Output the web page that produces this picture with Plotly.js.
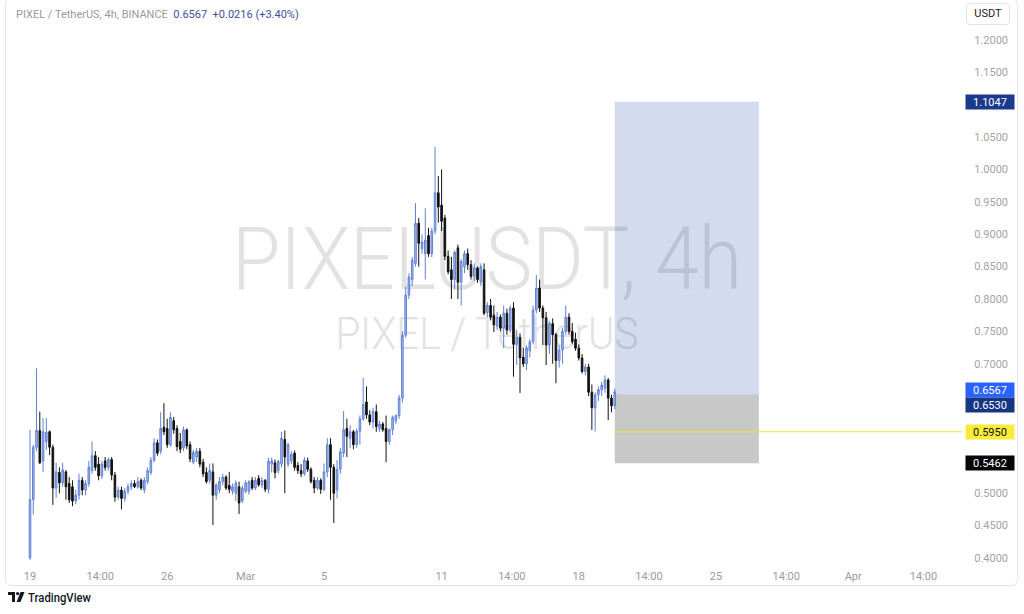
<!DOCTYPE html>
<html><head><meta charset="utf-8">
<script src="https://cdn.plot.ly/plotly-3.0.1.min.js"></script>
<style>
html,body{margin:0;padding:0;background:#fff;width:1024px;height:614px;overflow:hidden;font-family:Roboto,"Noto Sans",sans-serif;}
#frame{position:absolute;left:5px;top:-2px;width:1013px;height:588px;border:1px solid #e6e6e6;border-radius:6px;box-sizing:border-box;}
#wm{position:absolute;left:0;top:0;}
#chart{position:absolute;left:0;top:0;width:1024px;height:614px;}
#usdt{position:absolute;left:966px;top:3px;width:44px;height:22px;border:1px solid #e3e3e3;border-radius:4px;box-sizing:border-box;font-size:11px;line-height:20px;text-align:center;color:#222;}
#logo{position:absolute;left:8px;top:590px;}
</style></head>
<body>
<div id="frame"></div>
<svg id="wm" width="1024" height="614">
  <text x="487" y="289" text-anchor="middle" font-family="Roboto" font-size="88" font-weight="300" fill="#e2e2e2" textLength="510" lengthAdjust="spacingAndGlyphs">PIXELUSDT, 4h</text>
  <text x="487" y="349" text-anchor="middle" font-family="Roboto" font-size="44" font-weight="300" fill="#e2e2e2" textLength="303" lengthAdjust="spacingAndGlyphs">PIXEL / TetherUS</text>
</svg>
<div id="chart"></div>
<div id="usdt">USDT</div>
<svg id="logo" width="100" height="18">
  <path d="M0 2 H7 V12 H4 V5 H0 Z" fill="#131722"/>
  <circle cx="9.6" cy="3.6" r="1.6" fill="#131722"/>
  <path d="M12.5 2 H16.5 L12.5 12 H8.6 Z" fill="#131722"/>
  <text x="20" y="12" font-family="Roboto" font-size="12" font-weight="500" fill="#131722" textLength="63" lengthAdjust="spacingAndGlyphs">TradingView</text>
</svg>
<script>
const OPEN=[.400,.490,.571,.597,.550,.580,.595,.571,.508,.532,.516,.533,.515,.510,.488,.497,.520,.505,.515,.535,
.558,.545,.527,.550,.540,.552,.528,.494,.505,.492,.503,.510,.515,.510,.520,.505,.518,.532,.551,.578,
.565,.602,.600,.575,.612,.600,.580,.570,.598,.575,.548,.556,.565,.548,.532,.520,.533,.497,.505,.518,
.525,.512,.503,.500,.510,.488,.503,.503,.520,.508,.523,.513,.520,.506,.545,.547,.535,.545,.583,.545,
.550,.562,.543,.535,.530,.550,.537,.520,.508,.520,.506,.533,.575,.540,.505,.537,.562,.600,.585,.595,
.575,.596,.615,.641,.621,.610,.626,.600,.607,.600,.580,.598,.612,.620,.647,.744,.806,.830,.855,.917,
.878,.870,.898,.870,.905,.964,.945,.925,.866,.845,.830,.879,.826,.850,.870,.853,.835,.848,.826,.845,
.779,.790,.775,.758,.772,.755,.778,.752,.786,.730,.741,.710,.700,.720,.734,.783,.817,.786,.771,.729,
.762,.745,.705,.721,.750,.772,.750,.738,.724,.709,.688,.695,.656,.632,.652,.660,.662,.675,.647,.6351];
const HIGH=[.598,.575,.693,.626,.616,.616,.597,.575,.547,.540,.547,.536,.525,.520,.505,.530,.525,.520,.550,.580,
.565,.556,.550,.556,.555,.556,.533,.510,.510,.508,.515,.520,.520,.525,.523,.525,.540,.556,.585,.583,
.625,.639,.615,.625,.618,.605,.593,.603,.600,.580,.567,.570,.570,.553,.540,.546,.546,.515,.525,.530,
.528,.533,.515,.520,.518,.512,.520,.520,.525,.525,.528,.525,.522,.555,.555,.552,.552,.595,.597,.578,
.565,.566,.548,.545,.556,.555,.540,.525,.525,.523,.546,.585,.585,.545,.551,.570,.627,.615,.605,.598,
.600,.620,.678,.665,.628,.632,.637,.612,.610,.620,.600,.620,.622,.652,.750,.819,.840,.865,.948,.925,
.900,.940,.910,.910,1.035,.990,1.000,.930,.875,.865,.875,.884,.862,.875,.878,.860,.855,.850,.855,.855,
.795,.800,.790,.780,.776,.790,.785,.790,.795,.752,.747,.725,.728,.738,.790,.837,.830,.790,.780,.766,
.770,.748,.729,.755,.790,.778,.763,.748,.730,.715,.700,.700,.668,.656,.665,.672,.682,.678,.652,.662];
const LOW=[.397,.467,.565,.545,.533,.567,.559,.482,.493,.500,.510,.490,.485,.480,.483,.490,.497,.497,.510,.530,
.535,.520,.522,.535,.535,.520,.487,.490,.475,.487,.498,.505,.508,.507,.505,.500,.514,.528,.548,.558,
.560,.590,.570,.572,.592,.565,.562,.565,.568,.548,.545,.548,.540,.525,.515,.515,.451,.490,.500,.512,
.505,.500,.498,.488,.468,.485,.500,.498,.505,.505,.510,.508,.502,.500,.532,.523,.530,.540,.500,.540,
.545,.535,.530,.525,.527,.533,.515,.500,.505,.499,.503,.525,.490,.454,.492,.530,.556,.556,.570,.568,
.570,.575,.612,.615,.605,.600,.595,.595,.595,.548,.575,.590,.607,.615,.640,.740,.800,.820,.850,.850,
.870,.830,.865,.865,.900,.918,.905,.860,.838,.800,.815,.800,.790,.840,.845,.830,.828,.825,.820,.775,
.772,.767,.749,.752,.750,.724,.745,.748,.680,.698,.655,.695,.690,.710,.730,.778,.780,.729,.698,.715,
.700,.670,.694,.700,.745,.745,.730,.720,.705,.685,.682,.650,.598,.595,.642,.650,.655,.613,.625,.630];
const CLOSE=[.490,.571,.597,.547,.595,.594,.571,.508,.533,.516,.536,.510,.490,.488,.497,.520,.505,.515,.540,.558,
.540,.527,.545,.540,.552,.528,.494,.505,.492,.503,.510,.515,.510,.518,.508,.520,.535,.551,.578,.562,
.600,.595,.575,.617,.598,.572,.568,.598,.573,.553,.563,.565,.545,.530,.518,.535,.497,.513,.518,.525,
.508,.506,.510,.516,.485,.508,.516,.518,.508,.520,.513,.520,.506,.549,.550,.532,.549,.585,.556,.575,
.560,.540,.535,.530,.551,.537,.518,.508,.520,.506,.533,.575,.540,.500,.537,.564,.598,.588,.595,.575,
.596,.615,.637,.621,.610,.626,.603,.607,.598,.580,.598,.617,.620,.647,.744,.806,.834,.860,.917,.886,
.888,.891,.870,.905,.964,.942,.920,.866,.842,.830,.872,.826,.858,.870,.853,.835,.848,.830,.850,.778,
.790,.772,.760,.772,.755,.778,.752,.786,.730,.741,.709,.700,.724,.734,.783,.817,.786,.771,.729,.762,
.745,.705,.721,.750,.772,.750,.734,.724,.709,.688,.695,.656,.632,.652,.660,.667,.675,.647,.6351,.6567];

const TARGET=1.1047, ENTRY=0.6530, STOP=0.5462, LEVEL=0.5950;
const BOX_END='2024-03-27 04:30';
const XTICK_VALS=['2024-02-19','2024-02-22 14:00','2024-02-26','2024-03-01','2024-03-05','2024-03-11','2024-03-14 14:00','2024-03-18','2024-03-21 14:00','2024-03-25','2024-03-28 14:00','2024-04-01','2024-04-04 14:00'];
const XTICK_TEXT=['19','14:00','26','Mar','5','11','14:00','18','14:00','25','14:00','Apr','14:00'];
const YTICK_VALS=[0.40,0.45,0.50,0.70,0.75,0.80,0.85,0.90,0.95,1.00,1.05,1.15,1.20];

const T0=Date.UTC(2024,1,19,0,0,0);
const times=OPEN.map((_,i)=>new Date(T0+i*4*3600*1000).toISOString().slice(0,16).replace('T',' '));
const last=CLOSE[CLOSE.length-1], prev=CLOSE[CLOSE.length-2];
const chg=last-prev, pct=chg/prev*100;
const FONT='Roboto, "Noto Sans", sans-serif';
const XRANGE=['2024-02-17 21:04','2024-04-06 13:13'];

const trace={type:'candlestick',x:times,open:OPEN,high:HIGH,low:LOW,close:CLOSE,
  increasing:{line:{color:'#5f80d4',width:1},fillcolor:'#a9bdec'},
  decreasing:{line:{color:'#111111',width:1},fillcolor:'#111111'},
  whiskerwidth:0,hoverinfo:'skip',showlegend:false};

function plabel(v,bg,fg,ys){return {xref:'paper',x:1,xanchor:'left',xshift:3,yref:'y',y:v,yanchor:'middle',yshift:ys||0,
  text:v.toFixed(4),showarrow:false,bgcolor:bg,font:{color:fg,size:11,family:FONT},width:48,height:14,borderpad:0,align:'center'};}

const layout={width:1024,height:614,margin:{l:8,r:62,t:2,b:52},
  paper_bgcolor:'rgba(0,0,0,0)',plot_bgcolor:'rgba(0,0,0,0)',showlegend:false,
  font:{family:FONT},
  xaxis:{type:'date',range:XRANGE,rangeslider:{visible:false},tickmode:'array',tickvals:XTICK_VALS,ticktext:XTICK_TEXT,
    showgrid:false,zeroline:false,showline:false,ticks:'outside',ticklen:4,tickcolor:'rgba(0,0,0,0)',
    tickfont:{size:11,color:'#9b9b9b',family:FONT},fixedrange:true},
  yaxis:{side:'right',range:[0.39382,1.2587],tickmode:'array',tickvals:YTICK_VALS,ticktext:YTICK_VALS.map(v=>v.toFixed(4)),
    showgrid:false,zeroline:false,showline:false,ticks:'outside',ticklen:9,tickcolor:'rgba(0,0,0,0)',
    tickfont:{size:11,color:'#a3a3a3',family:FONT},fixedrange:true},
  shapes:[
    {type:'rect',xref:'x',yref:'y',x0:times[times.length-1],x1:BOX_END,y0:ENTRY,y1:TARGET,fillcolor:'rgba(40,75,170,0.2)',line:{width:0},layer:'below'},
    {type:'rect',xref:'x',yref:'y',x0:times[times.length-1],x1:BOX_END,y0:STOP,y1:ENTRY,fillcolor:'rgba(110,110,110,0.38)',line:{width:0},layer:'below'},
    {type:'line',xref:'x',yref:'y',x0:times[times.length-1],x1:XRANGE[1],y0:LEVEL,y1:LEVEL,line:{color:'#f2e21c',width:1.2},layer:'above'}
  ],
  annotations:[
    {xref:'paper',yref:'paper',x:0.0063,y:0.9768,xanchor:'left',yanchor:'middle',showarrow:false,
     text:'PIXEL / TetherUS, 4h, BINANCE  <span style="color:#3a5296">'+last.toFixed(4)+'  +'+chg.toFixed(4)+' (+'+pct.toFixed(2)+'%)</span>',
     font:{size:11,color:'#9a9a9a',family:FONT}},
    plabel(TARGET,'#1b3a8e','#ffffff',0),
    plabel(last,'#2962ff','#ffffff',2),
    plabel(ENTRY,'#163583','#ffffff',-11),
    plabel(LEVEL,'#f7ec3c','#131313',0),
    plabel(STOP,'#050505','#ffffff',0)
  ]};

Plotly.newPlot('chart',[trace],layout,{displayModeBar:false,staticPlot:true});
</script>
</body></html>
